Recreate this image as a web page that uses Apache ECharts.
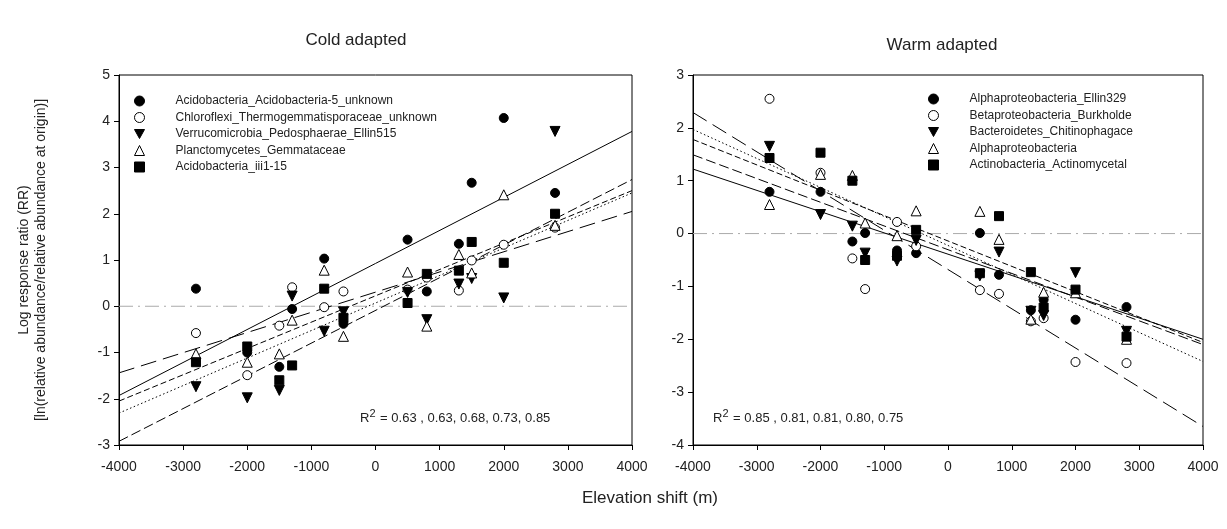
<!DOCTYPE html>
<html>
<head>
<meta charset="utf-8">
<script src="https://cdn.jsdelivr.net/npm/echarts@6/dist/echarts.min.js"></script>
<style>
html, body { margin: 0; padding: 0; background: #fff; }
#main-chart { width: 1227px; height: 529px; }
</style>
</head>
<body>
<div id="main-chart"></div>
<script>
var FONT = '"Liberation Sans", Arial, sans-serif';

// elevation shift of each transplant (m)
var shift = [-2800, -2000, -1500, -1300, -800, -500, 500, 800, 1300, 1500, 2000, 2800];
var fitX = [-4000, 4000];
var zeroY = [0, 0];

// cold adapted taxa
var coldNames = [
    'Acidobacteria_Acidobacteria-5_unknown',
    'Chloroflexi_Thermogemmatisporaceae_unknown',
    'Verrucomicrobia_Pedosphaerae_Ellin515',
    'Planctomycetes_Gemmataceae',
    'Acidobacteria_iii1-15'
];
var coldAcido5  = [0.38, -1.00, -1.31, -0.06, 1.03, -0.38, 1.44, 0.32, 1.35, 2.67, 4.07, 2.45];
var coldChloro  = [-0.58, -1.49, -0.42, 0.41, -0.02, 0.32, 0.36, 0.62, 0.34, 0.99, 1.33, 1.70];
var coldVerruco = [-1.74, -1.98, -1.82, 0.22, -0.54, -0.12, 0.30, -0.29, 0.48, 0.60, 0.18, 3.78];
var coldPlancto = [-1.03, -1.21, -1.03, -0.30, 0.78, -0.65, 0.74, -0.43, 1.12, 0.72, 2.41, 1.75];
var coldIii     = [-1.21, -0.87, -1.60, -1.28, 0.38, -0.25, 0.07, 0.70, 0.77, 1.39, 0.94, 2.00];
// regression lines, value at -4000 and 4000
var coldFitAcido5  = [-1.93, 3.78];
var coldFitChloro  = [-1.44, 2.05];
var coldFitVerruco = [-2.92, 2.74];
var coldFitPlancto = [-2.05, 2.50];
var coldFitIii     = [-2.31, 2.45];

// warm adapted taxa
var warmNames = [
    'Alphaproteobacteria_Ellin329',
    'Betaproteobacteria_Burkholde',
    'Bacteroidetes_Chitinophagace',
    'Alphaproteobacteria',
    'Actinobacteria_Actinomycetal'
];
var warmEllin   = [0.79, 0.79, -0.15, 0.01, -0.32, -0.37, 0.01, -0.78, -1.45, -1.25, -1.63, -1.39];
var warmBurk    = [2.55, 1.15, -0.47, -1.05, 0.22, -0.24, -1.07, -1.14, -1.66, -1.60, -2.43, -2.45];
var warmChitino = [1.65, 0.36, 0.14, -0.37, -0.52, -0.13, -0.80, -0.35, -1.47, -1.55, -0.74, -1.85];
var warmAlpha   = [0.55, 1.12, 1.10, 0.20, -0.04, 0.43, 0.42, -0.11, -1.62, -1.11, -1.12, -2.00];
var warmActino  = [1.43, 1.53, 1.00, -0.50, -0.42, 0.07, -0.75, 0.33, -0.73, -1.40, -1.06, -1.95];
var warmFitEllin   = [1.22, -2.00];
var warmFitBurk    = [2.29, -3.65];
var warmFitChitino = [1.49, -2.10];
var warmFitAlpha   = [1.78, -2.06];
var warmFitActino  = [1.97, -2.42];

var coldR2 = '0.63 , 0.63, 0.68, 0.73, 0.85';
var warmR2 = '0.85 , 0.81, 0.81, 0.80, 0.75';

var DOWN_TRI = 'path://M0,0L10,0L5,9Z';
var marks = [
    { symbol: 'circle', size: 9, fill: '#000' },
    { symbol: 'circle', size: 9, fill: '#fff' },
    { symbol: DOWN_TRI, size: 10, fill: '#000' },
    { symbol: 'triangle', size: 10, fill: '#fff' },
    { symbol: 'rect', size: 9, fill: '#000' }
];
var dashes = ['solid', [16, 7], [10, 4], [6, 3], [1.5, 2.5]];

function pairs(xs, ys) {
    return xs.map(function (x, i) { return [x, ys[i]]; });
}

function scatterSeries(name, ys, k, idx) {
    return {
        name: name,
        type: 'scatter',
        xAxisIndex: idx,
        yAxisIndex: idx,
        symbol: marks[k].symbol,
        symbolSize: marks[k].size,
        itemStyle: { color: marks[k].fill, borderColor: '#000', borderWidth: 1, opacity: 1 },
        data: pairs(shift, ys),
        z: 3
    };
}

function fitSeries(ys, k, idx) {
    return {
        type: 'line',
        xAxisIndex: idx,
        yAxisIndex: idx,
        symbol: 'none',
        silent: true,
        lineStyle: { color: '#000', width: 1, type: dashes[k] },
        data: pairs(fitX, ys),
        z: 2
    };
}

function zeroSeries(idx) {
    return {
        type: 'line',
        xAxisIndex: idx,
        yAxisIndex: idx,
        symbol: 'none',
        silent: true,
        lineStyle: { color: '#aaa', width: 1, type: [14, 5, 2, 5] },
        data: pairs(fitX, zeroY),
        z: 1
    };
}

function xAxisOpt(idx) {
    return {
        gridIndex: idx, type: 'value', min: -4000, max: 4000, interval: 1000,
        axisLine: { show: true, onZero: false, lineStyle: { color: '#000', width: 1 } },
        axisTick: { show: true, length: 5, lineStyle: { color: '#000' } },
        axisLabel: {
            fontSize: 14, color: '#222', fontFamily: FONT, margin: 15,
            showMinLabel: true, showMaxLabel: true,
            formatter: function (v) { return String(v); }
        },
        splitLine: { show: false }
    };
}

function yAxisOpt(idx, lo, hi) {
    return {
        gridIndex: idx, type: 'value', min: lo, max: hi, interval: 1,
        axisLine: { show: true, onZero: false, lineStyle: { color: '#000', width: 1 } },
        axisTick: { show: true, length: 5, lineStyle: { color: '#000' } },
        axisLabel: { fontSize: 14, color: '#222', fontFamily: FONT, margin: 9, showMinLabel: true, showMaxLabel: true },
        splitLine: { show: false }
    };
}

function legendOpt(names, left, top) {
    return {
        data: names, orient: 'vertical', left: left, top: top, padding: 0,
        itemWidth: 10, itemHeight: 10, itemGap: 4.5, selectedMode: false,
        itemStyle: { borderWidth: 1 },
        textStyle: { fontSize: 12, color: '#222', fontFamily: FONT, padding: [0, 0, 0, 26] }
    };
}

function r2Text(x, y, vals) {
    return {
        type: 'text', x: x, y: y,
        style: {
            text: 'R{s|2} = ' + vals,
            fontSize: 13, fontFamily: FONT, fill: '#222',
            align: 'left', verticalAlign: 'middle',
            rich: { s: { fontSize: 11, fontFamily: FONT, fill: '#222', padding: [0, 1, 9, 0] } }
        }
    };
}

var mainChart = echarts.init(document.getElementById('main-chart'), null, { renderer: 'canvas' });

var series = [zeroSeries(0), zeroSeries(1)];
[coldFitAcido5, coldFitChloro, coldFitVerruco, coldFitPlancto, coldFitIii].forEach(function (f, k) {
    series.push(fitSeries(f, k, 0));
});
[warmFitEllin, warmFitBurk, warmFitChitino, warmFitAlpha, warmFitActino].forEach(function (f, k) {
    series.push(fitSeries(f, k, 1));
});
[coldAcido5, coldChloro, coldVerruco, coldPlancto, coldIii].forEach(function (ys, k) {
    series.push(scatterSeries(coldNames[k], ys, k, 0));
});
[warmEllin, warmBurk, warmChitino, warmAlpha, warmActino].forEach(function (ys, k) {
    series.push(scatterSeries(warmNames[k], ys, k, 1));
});

var mainOpt = {
    animation: false,
    backgroundColor: '#fff',
    grid: [
        { left: 119, right: 595, top: 75, bottom: 84, show: true, borderColor: '#000', borderWidth: 1, outerBoundsMode: 'none' },
        { left: 693, right: 24, top: 75, bottom: 84, show: true, borderColor: '#000', borderWidth: 1, outerBoundsMode: 'none' }
    ],
    xAxis: [xAxisOpt(0), xAxisOpt(1)],
    yAxis: [yAxisOpt(0, -3, 5), yAxisOpt(1, -4, 3)],
    legend: [legendOpt(coldNames, 134, 95), legendOpt(warmNames, 928, 93)],
    graphic: [
        { type: 'text', x: 356, y: 40, style: { text: 'Cold adapted', fontSize: 17, fontFamily: FONT, fill: '#222', align: 'center', verticalAlign: 'middle' } },
        { type: 'text', x: 942, y: 45, style: { text: 'Warm adapted', fontSize: 17, fontFamily: FONT, fill: '#222', align: 'center', verticalAlign: 'middle' } },
        { type: 'text', x: 650, y: 498, style: { text: 'Elevation shift (m)', fontSize: 17, fontFamily: FONT, fill: '#222', align: 'center', verticalAlign: 'middle' } },
        { type: 'text', x: 24, y: 260, rotation: Math.PI / 2, style: { text: 'Log response ratio (RR)', fontSize: 14, fontFamily: FONT, fill: '#222', align: 'center', verticalAlign: 'middle' } },
        { type: 'text', x: 41, y: 260, rotation: Math.PI / 2, style: { text: '[ln(relative abundance/relative abundance at origin)]', fontSize: 14, fontFamily: FONT, fill: '#222', align: 'center', verticalAlign: 'middle' } },
        r2Text(360, 418, coldR2),
        r2Text(713, 418, warmR2)
    ],
    series: series
};

mainChart.setOption(mainOpt);
</script>
</body>
</html>
